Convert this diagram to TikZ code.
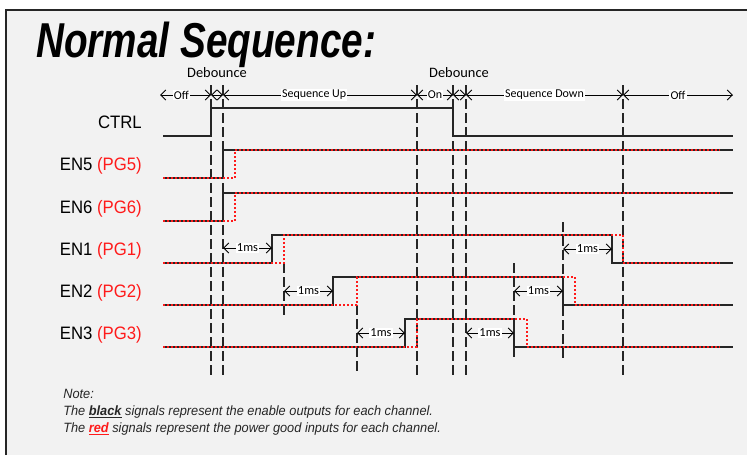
\documentclass[tikz,border=0pt]{standalone}
\usepackage{fontspec}
\setmainfont{Liberation Sans}
\newfontfamily\titlefont[FakeStretch=0.79]{Liberation Sans}
\newfontfamily\sigfont[FakeStretch=0.93]{Liberation Sans}
\newfontfamily\notefont[FakeStretch=0.95]{Liberation Sans}
\newfontfamily\tlfont{Carlito}
\usetikzlibrary{arrows.meta}
\definecolor{bgc}{HTML}{F2F2F2}
\definecolor{sigc}{HTML}{262626}
\definecolor{pgred}{HTML}{FF1A1A}
\begin{document}
\begin{tikzpicture}[x=0.75pt,y=-0.75pt,
  >={Straight Barb[length=3.8pt,width=7.5pt]},
  sig/.style={draw=sigc,line width=1.5pt},
  pg/.style={draw=pgred,line width=1.3pt,dash pattern=on 1.5pt off 1.5pt},
  guide/.style={draw=sigc,line width=0.8pt,dash pattern=on 7.5pt off 3pt},
  tl/.style={draw=black,line width=0.75pt,<->},
  seg/.style={fill=white,inner sep=0.8pt,font=\tlfont\fontsize{9}{10}\selectfont},
  msl/.style={fill=white,inner sep=0.8pt,font=\tlfont\fontsize{9.3}{10}\selectfont},
  deb/.style={inner sep=0pt,font=\tlfont\fontsize{10.8}{12}\selectfont},
  signame/.style={anchor=base east,inner sep=0pt,font=\sigfont\fontsize{13.5}{15}\selectfont},
  notel/.style={anchor=base west,inner sep=0pt,text=sigc,font=\notefont\itshape\fontsize{10.1}{12}\selectfont}]
\useasboundingbox (0,0) rectangle (747,455);
\fill[white] (0,0) rectangle (747,455);
\fill[bgc] (6,10) rectangle (747,455);
\draw[line width=1.5pt,sigc] (6,455) -- (6,10) -- (747,10);

% title
\node[anchor=base west,inner sep=0pt,font=\titlefont\bfseries\itshape\fontsize{36.75}{40}\selectfont] (title) at (36,57) {Normal Sequence:};

% guide lines
\foreach \x/\n in {211/ga,223/gb,417/gc,453/gd,466/ge,623/gf}{
  \draw[guide] (\x,85) coordinate (\n top) -- (\x,375) coordinate (\n bot);
}
\draw[guide] (284,263) -- (284,318);
\draw[guide] (357,305) -- (357,372);
\draw[guide] (514,263) -- (514,360);
\draw[guide] (563,222) -- (563,362);

% timeline
\coordinate (t0) at (160,95);
\coordinate (t1) at (211,95);
\coordinate (t2) at (223,95);
\coordinate (t3) at (417,95);
\coordinate (t4) at (453,95);
\coordinate (t5) at (466,95);
\coordinate (t6) at (623,95);
\coordinate (t7) at (733,95);
\draw[tl] (t0) -- node[seg,pos=0.42] (off1) {Off} (t1);
\draw[tl] (t1) -- (t2);
\draw[tl] (t2) -- node[seg,pos=0.47] (sup) {Sequence Up} (t3);
\draw[tl] (t3) -- node[seg] (on) {On} (t4);
\draw[tl] (t4) -- (t5);
\draw[tl] (t5) -- node[seg,pos=0.5] (sdn) {Sequence Down} (t6);
\draw[tl] (t6) -- node[seg] (off2) {Off} (t7);
\node[deb] (deb1) at (217,73) {Debounce};
\node[deb] (deb2) at (459,73) {Debounce};

% signal names
\node[signame] (nctrl) at (142,128.5) {CTRL};
\node[signame] (n5) at (142,170.5) {EN5 \textcolor{pgred}{(PG5)}};
\node[signame] (n6) at (142,213.5) {EN6 \textcolor{pgred}{(PG6)}};
\node[signame] (n1) at (142,255.5) {EN1 \textcolor{pgred}{(PG1)}};
\node[signame] (n2) at (142,297.5) {EN2 \textcolor{pgred}{(PG2)}};
\node[signame] (n3) at (142,339.5) {EN3 \textcolor{pgred}{(PG3)}};

% CTRL
\draw[sig] (163,136) -- (211,136) -- (211,108) -- (453,108) -- (453,136) -- (733,136);
% EN5
\draw[sig] (163,178) -- (223,178) -- (223,150) -- (733,150);
\draw[pg] (163,178) -- (235,178) -- (235,150) -- (720,150);
% EN6
\draw[sig] (163,221) -- (223,221) -- (223,193) -- (733,193);
\draw[pg] (163,221) -- (235,221) -- (235,193) -- (720,193);
% EN1
\draw[sig] (163,263) -- (272,263) -- (272,235) -- (612,235) -- (612,263) -- (733,263);
\draw[pg] (163,263) -- (284,263) -- (284,235) -- (623,235) -- (623,263) -- (720,263);
% EN2
\draw[sig] (163,305) -- (333,305) -- (333,277) -- (563,277) -- (563,305) -- (733,305);
\draw[pg] (163,305) -- (357,305) -- (357,277) -- (575,277) -- (575,305) -- (720,305);
% EN3
\draw[sig] (163,347) -- (405,347) -- (405,319) -- (514,319) -- (514,347) -- (733,347);
\draw[pg] (163,347) -- (417,347) -- (417,319) -- (527,319) -- (527,347) -- (720,347);

% 1ms delays
\coordinate (a1) at (223,248); \coordinate (b1) at (272,248);
\coordinate (a2) at (284,291); \coordinate (b2) at (333,291);
\coordinate (a3) at (357,333); \coordinate (b3) at (405,333);
\coordinate (a4) at (466,333); \coordinate (b4) at (514,333);
\coordinate (a5) at (514,291); \coordinate (b5) at (563,291);
\coordinate (a6) at (563,249); \coordinate (b6) at (612,249);
\foreach \i in {1,...,6}{
  \draw[tl] (a\i) -- node[msl] (ms\i) {1ms} (b\i);
}

% note
\node[notel] (note0) at (63,398) {Note:};
\node[notel] (note1) at (63,415) {The \underline{\textbf{black}} signals represent the enable outputs for each channel.};
\node[notel] (note2) at (63,432.5) {The \textcolor{pgred}{\underline{\textbf{red}}} signals represent the power good inputs for each channel.};
\end{tikzpicture}
\end{document}
